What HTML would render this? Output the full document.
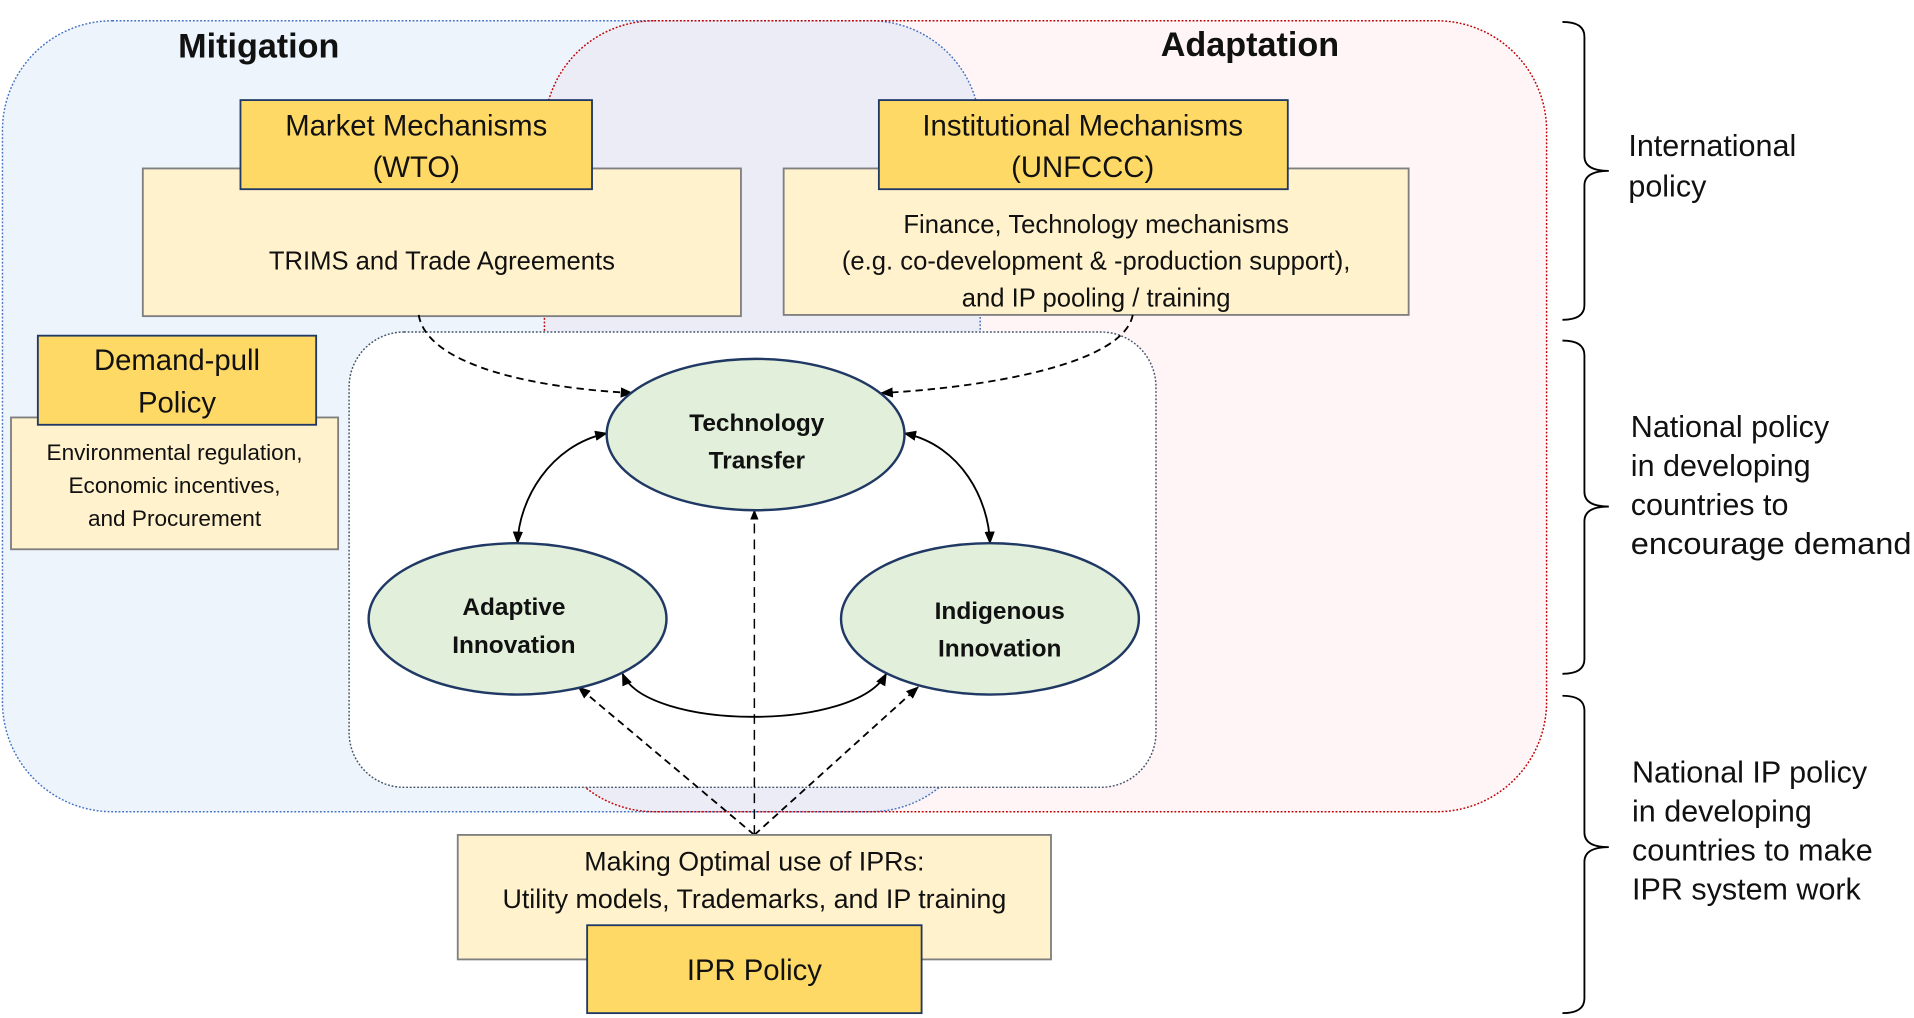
<!DOCTYPE html>
<html><head><meta charset="utf-8"><style>html,body{margin:0;padding:0;background:#fff}svg{display:block}text{font-family:"Liberation Sans",sans-serif;fill:#111}</style></head>
<body>
<svg width="1914" height="1018" viewBox="0 0 1568 834" preserveAspectRatio="none" xmlns="http://www.w3.org/2000/svg">
<defs>
<marker id="a" viewBox="0 0 10 10" refX="9" refY="5" markerWidth="7" markerHeight="7" orient="auto-start-reverse"><path d="M0,1 L10,5 L0,9 z" fill="#000"/></marker>
<clipPath id="cb"><rect x="2" y="17" width="801" height="648" rx="90"/></clipPath>
</defs>
<rect x="2" y="17" width="801" height="648" rx="90" fill="#EDF4FB"/>
<rect x="446" y="17" width="821" height="648" rx="90" fill="#FFF5F6"/>
<rect x="446" y="17" width="821" height="648" rx="90" fill="#ECECF6" clip-path="url(#cb)"/>
<rect x="2" y="17" width="801" height="648" rx="90" fill="none" stroke="#4472C4" stroke-width="1.2" stroke-dasharray="1.5 1.5"/>
<rect x="446" y="17" width="821" height="648" rx="90" fill="none" stroke="#C00000" stroke-width="1.2" stroke-dasharray="1.5 1.5"/>
<rect x="286" y="272" width="661" height="373" rx="45" fill="#fff" stroke="#44546A" stroke-width="1.2" stroke-dasharray="1.5 1.5"/>
<text x="212" y="47" font-size="28" font-weight="bold" text-anchor="middle">Mitigation</text>
<text x="1024" y="46" font-size="28" font-weight="bold" text-anchor="middle">Adaptation</text>

<rect x="117" y="138" width="490" height="121" fill="#FFF2CC" stroke="#7F7F7F" stroke-width="1.5"/>
<rect x="197" y="82" width="288" height="73" fill="#FFD966" stroke="#1F3864" stroke-width="1.5"/>
<text x="341" y="111" font-size="24" text-anchor="middle">Market Mechanisms</text>
<text x="341" y="145" font-size="24" text-anchor="middle">(WTO)</text>
<text x="362" y="221" font-size="21" text-anchor="middle">TRIMS and Trade Agreements</text>

<rect x="642" y="138" width="512" height="120" fill="#FFF2CC" stroke="#7F7F7F" stroke-width="1.5"/>
<rect x="720" y="82" width="335" height="73" fill="#FFD966" stroke="#1F3864" stroke-width="1.5"/>
<text x="887" y="111" font-size="24" text-anchor="middle">Institutional Mechanisms</text>
<text x="887" y="145" font-size="24" text-anchor="middle">(UNFCCC)</text>
<text x="898" y="191" font-size="21" text-anchor="middle">Finance, Technology mechanisms</text>
<text x="898" y="221" font-size="21" text-anchor="middle">(e.g. co-development &amp; -production support),</text>
<text x="898" y="251" font-size="21" text-anchor="middle">and IP pooling / training</text>

<rect x="9" y="342" width="268" height="108" fill="#FFF2CC" stroke="#7F7F7F" stroke-width="1.5"/>
<rect x="31" y="275" width="228" height="73" fill="#FFD966" stroke="#1F3864" stroke-width="1.5"/>
<text x="145" y="303" font-size="24" text-anchor="middle">Demand-pull</text>
<text x="145" y="338" font-size="24" text-anchor="middle">Policy</text>
<text x="143" y="377" font-size="18.5" text-anchor="middle">Environmental regulation,</text>
<text x="143" y="404" font-size="18.5" text-anchor="middle">Economic incentives,</text>
<text x="143" y="431" font-size="18.5" text-anchor="middle">and Procurement</text>

<g fill="none" stroke="#000" stroke-width="1.5">
<path d="M343,258 C350,300 440,318 518,322" stroke-dasharray="6 4" marker-end="url(#a)"/>
<path d="M928,258 C920,300 800,318 722,322" stroke-dasharray="6 4" marker-end="url(#a)"/>
<path d="M497,355 C450,365 425,410 424,445" marker-start="url(#a)" marker-end="url(#a)"/>
<path d="M741,355 C788,365 810,410 811,445" marker-start="url(#a)" marker-end="url(#a)"/>
<path d="M510,552 C530,598 700,600 726,552" marker-start="url(#a)" marker-end="url(#a)"/>
<path d="M618,684 L618,418" stroke-dasharray="8 5" stroke-width="1.2" marker-end="url(#a)"/>
<path d="M618,684 L474,563" stroke-dasharray="6 4" marker-end="url(#a)"/>
<path d="M618,684 L752,563" stroke-dasharray="6 4" marker-end="url(#a)"/>
</g>

<g fill="#E2EFDA" stroke="#1F3864" stroke-width="2">
<ellipse cx="619" cy="356" rx="122" ry="62"/>
<ellipse cx="424" cy="507" rx="122" ry="62"/>
<ellipse cx="811" cy="507" rx="122" ry="62"/>
</g>
<g font-size="20" font-weight="bold" text-anchor="middle">
<text x="620" y="353">Technology</text><text x="620" y="384">Transfer</text>
<text x="421" y="504">Adaptive</text><text x="421" y="535">Innovation</text>
<text x="819" y="507">Indigenous</text><text x="819" y="538">Innovation</text>
</g>

<rect x="375" y="684" width="486" height="102" fill="#FFF2CC" stroke="#7F7F7F" stroke-width="1.5"/>
<rect x="481" y="758" width="274" height="72" fill="#FFD966" stroke="#1F3864" stroke-width="1.5"/>
<text x="618" y="713" font-size="22" text-anchor="middle">Making Optimal use of IPRs:</text>
<text x="618" y="744" font-size="22" text-anchor="middle">Utility models, Trademarks, and IP training</text>
<text x="618" y="803" font-size="24" text-anchor="middle">IPR Policy</text>

<g fill="none" stroke="#000" stroke-width="1.5">
<path d="M1280,18 Q1298,18 1298,30 L1298,128 Q1298,140 1318,140 Q1298,140 1298,152 L1298,250 Q1298,262 1280,262"/>
<path d="M1280,279 Q1298,279 1298,291 L1298,403 Q1298,415 1318,415 Q1298,415 1298,427 L1298,540 Q1298,552 1280,552"/>
<path d="M1280,570 Q1298,570 1298,582 L1298,682 Q1298,694 1318,694 Q1298,694 1298,706 L1298,818 Q1298,830 1280,830"/>
</g>
<g font-size="25">
<text x="1334" y="128">International</text><text x="1334" y="161">policy</text>
<text x="1336" y="358">National policy</text><text x="1336" y="390">in developing</text><text x="1336" y="422">countries to</text><text x="1336" y="454" textLength="230" lengthAdjust="spacingAndGlyphs">encourage demand</text>
<text x="1337" y="641">National IP policy</text><text x="1337" y="673">in developing</text><text x="1337" y="705">countries to make</text><text x="1337" y="737">IPR system work</text>
</g>
</svg>
</body></html>
